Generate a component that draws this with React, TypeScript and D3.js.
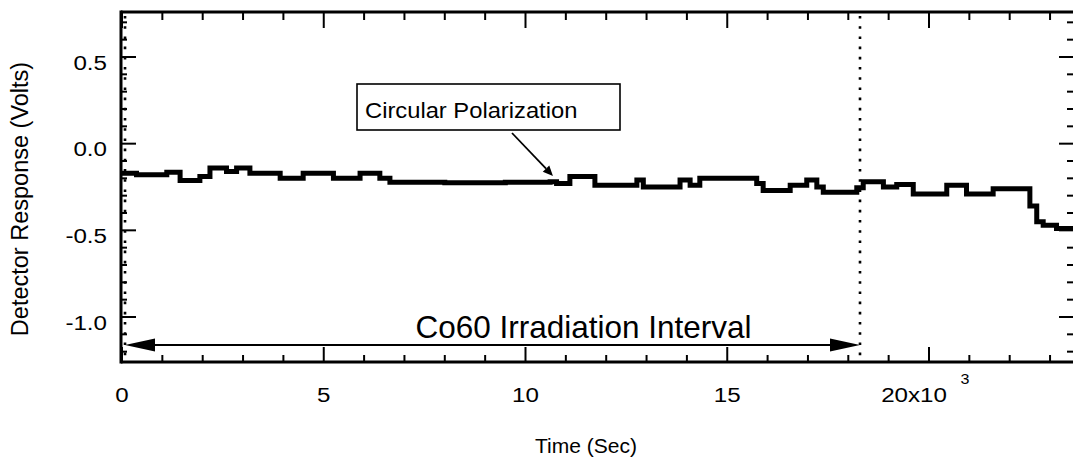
import React from "react";
import * as d3 from "d3";

// Data (time in seconds, detector response in volts)
const timeSec = [
  0, 360, 1110, 1440, 1930, 2180, 2590, 2840, 3170, 3920, 4490, 5240, 5900,
  6390, 6640, 8000, 9500, 10610, 10770, 11100, 11720, 12760, 12920, 13830,
  14080, 14320, 15730, 15890, 16560, 16970, 17220, 17380, 18210, 18370,
  18870, 19200, 19610, 20440, 20930, 21590, 22500, 22670, 22830, 23160,
  23570,
];
const response = [
  -0.17, -0.18, -0.165, -0.213, -0.19, -0.14, -0.16, -0.14, -0.17, -0.2,
  -0.17, -0.2, -0.17, -0.2, -0.222, -0.225, -0.222, -0.22, -0.23, -0.19,
  -0.24, -0.21, -0.25, -0.21, -0.24, -0.2, -0.23, -0.27, -0.24, -0.21,
  -0.25, -0.28, -0.255, -0.22, -0.25, -0.235, -0.29, -0.24, -0.29, -0.26,
  -0.36, -0.45, -0.47, -0.49, -0.49,
];

const xMajorTicks = [0, 5000, 10000, 15000, 20000];
const xTickLabels = ["0", "5", "10", "15", "20x10"];
const yMajorTicks = [-1.0, -0.5, 0.0, 0.5];
const yTickLabels = ["-1.0", "-0.5", "0.0", "0.5"];

const irradiationStart = 75;
const irradiationEnd = 18290;
const annotationTime = 10680;
const annotationValue = -0.186;

const FONT = "'Liberation Sans', Arial, Helvetica, sans-serif";

export default function App() {
  const W = 1073;
  const H = 461;
  const left = 121;
  const top = 12;
  const bottom = 362;
  const right = 1075;

  const x = d3.scaleLinear().domain([0, 20000]).range([122, 929]);
  const y = d3.scaleLinear().domain([-1, 0.5]).range([317, 57]);

  const xMinor = d3.range(0, 24000, 1000).filter((t) => t % 5000 !== 0);
  const yMinor = d3
    .range(-12, 8)
    .map((i) => i / 10)
    .filter((v) => Math.abs(Math.round(v * 10) % 5) !== 0);

  const pts = timeSec.map((t, i) => [t, response[i]] as [number, number]);
  const line = d3
    .line<[number, number]>()
    .x((d) => x(d[0]))
    .y((d) => y(d[1]))
    .curve(d3.curveStepAfter);

  const arrowY = 345;
  const ax0 = x(irradiationStart);
  const ax1 = x(irradiationEnd);
  const headL = 30;
  const headW = 6.5;

  // annotation pointer
  const tipX = x(annotationTime);
  const tipY = y(annotationValue);
  const startX = 512;
  const startY = 133;
  const dx = tipX - startX;
  const dy = tipY - startY;
  const len = Math.sqrt(dx * dx + dy * dy);
  const ux = dx / len;
  const uy = dy / len;
  const hl = 10;
  const hw = 4.5;
  const bx = tipX - ux * hl;
  const by = tipY - uy * hl;

  return (
    <svg
      width={W}
      height={H}
      style={{ position: "absolute", left: 0, top: 0, background: "#fff" }}
      fontFamily={FONT}
    >
      <rect x={0} y={0} width={W} height={H} fill="#fff" />

      {/* dotted vertical markers */}
      {[irradiationStart, irradiationEnd].map((t, i) => (
        <line
          key={i}
          x1={x(t)}
          x2={x(t)}
          y1={top + 4}
          y2={bottom}
          stroke="#000"
          strokeWidth={2.6}
          strokeDasharray="2.6 7.6"
        />
      ))}

      {/* data */}
      <path d={line(pts) || ""} fill="none" stroke="#000" strokeWidth={5} strokeLinejoin="miter" />

      {/* axes frame */}
      <line x1={left} x2={W} y1={top} y2={top} stroke="#000" strokeWidth={3} />
      <line x1={left} x2={W} y1={bottom} y2={bottom} stroke="#000" strokeWidth={3} />
      <line x1={left} x2={left} y1={top - 1.5} y2={bottom + 1.5} stroke="#000" strokeWidth={3} />

      {/* x ticks bottom & top */}
      {xMajorTicks.map((t) => (
        <g key={"xm" + t}>
          <line x1={x(t)} x2={x(t)} y1={bottom} y2={bottom - 15} stroke="#000" strokeWidth={2} />
          <line x1={x(t)} x2={x(t)} y1={top} y2={top + 16} stroke="#000" strokeWidth={2} />
        </g>
      ))}
      {xMinor.map((t) => (
        <g key={"xn" + t}>
          <line x1={x(t)} x2={x(t)} y1={bottom} y2={bottom - 7} stroke="#000" strokeWidth={2} />
          <line x1={x(t)} x2={x(t)} y1={top} y2={top + 8} stroke="#000" strokeWidth={2} />
        </g>
      ))}

      {/* y ticks left & right */}
      {yMajorTicks.map((v) => (
        <g key={"ym" + v}>
          <line x1={left} x2={left + 15} y1={y(v)} y2={y(v)} stroke="#000" strokeWidth={2} />
          <line x1={right} x2={right - 16} y1={y(v)} y2={y(v)} stroke="#000" strokeWidth={2} />
        </g>
      ))}
      {yMinor.map((v) => (
        <g key={"yn" + v}>
          <line x1={left} x2={left + 6} y1={y(v)} y2={y(v)} stroke="#000" strokeWidth={2} />
          <line x1={right} x2={right - 8} y1={y(v)} y2={y(v)} stroke="#000" strokeWidth={2} />
        </g>
      ))}

      {/* x tick labels */}
      {xMajorTicks.map((t, i) => {
        const cx = i === 4 ? x(t) - 15 : x(t);
        return (
          <text
            key={"xl" + t}
            transform={`translate(${cx},402) scale(1.15,1)`}
            textAnchor="middle"
            fontSize={21}
            fill="#000"
          >
            {xTickLabels[i]}
          </text>
        );
      })}
      <text transform={`translate(${x(20000) + 36},384) scale(1.15,1)`} textAnchor="middle" fontSize={14} fill="#000">
        3
      </text>

      {/* y tick labels */}
      {yMajorTicks.map((v, i) => (
        <text
          key={"yl" + v}
          transform={`translate(107,${y(v) + 12.5}) scale(1.15,1)`}
          textAnchor="end"
          fontSize={21}
          fill="#000"
        >
          {yTickLabels[i]}
        </text>
      ))}

      {/* axis titles */}
      <text
        transform="translate(28,199) rotate(-90)"
        textAnchor="middle"
        fontSize={23.5}
        fill="#000"
      >
        Detector Response (Volts)
      </text>
      <text x={586} y={453} textAnchor="middle" fontSize={21} fill="#000">
        Time (Sec)
      </text>

      {/* irradiation interval arrow */}
      <line x1={ax0 + headL - 2} x2={ax1 - headL + 2} y1={arrowY} y2={arrowY} stroke="#000" strokeWidth={2.2} />
      <path
        d={`M${ax0},${arrowY} L${ax0 + headL},${arrowY - headW} L${ax0 + headL},${arrowY + headW} Z`}
        fill="#000"
      />
      <path
        d={`M${ax1},${arrowY} L${ax1 - headL},${arrowY - headW} L${ax1 - headL},${arrowY + headW} Z`}
        fill="#000"
      />
      <text x={(ax0 + ax1) / 2 + 91} y={338} textAnchor="middle" fontSize={31.5} fill="#000">
        Co60 Irradiation Interval
      </text>

      {/* legend annotation */}
      <rect x={357} y={84} width={263} height={46} fill="#fff" stroke="#000" strokeWidth={1.6} />
      <text transform="translate(365,118) scale(1.08,1)" fontSize={22} fill="#000">
        Circular Polarization
      </text>
      <line x1={startX} y1={startY} x2={bx} y2={by} stroke="#000" strokeWidth={1.8} />
      <path
        d={`M${tipX},${tipY} L${bx - uy * hw},${by + ux * hw} L${bx + uy * hw},${by - ux * hw} Z`}
        fill="#000"
      />
    </svg>
  );
}
